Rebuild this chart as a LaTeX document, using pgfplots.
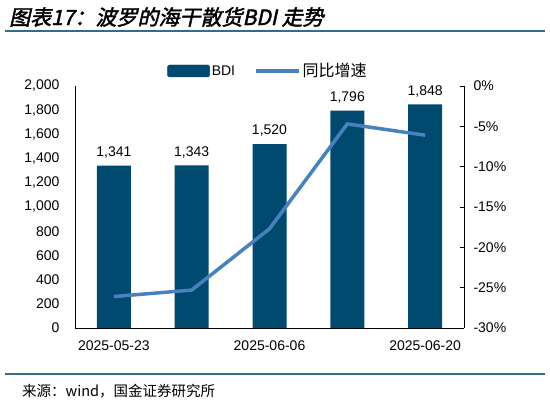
\documentclass[border=0pt]{standalone}
\usepackage{fontspec}
\usepackage{pgfplots}
\pgfplotsset{compat=1.18}
\setmainfont{Liberation Sans}
\newfontfamily\cjk{Noto Sans CJK SC}
\newfontfamily\cjktitle[FakeSlant=0.22,FakeBold=2]{Noto Sans CJK SC}
\definecolor{bdiblue}{RGB}{0,74,112}
\definecolor{linecol}{RGB}{72,129,190}
\definecolor{rulecol}{RGB}{52,108,140}
\begin{document}
\begin{tikzpicture}
\useasboundingbox (0,0) rectangle (550pt,404pt);
\node[anchor=west,inner sep=0pt] at (9pt,387pt) {\fontsize{21}{24}\selectfont\cjktitle 图表17：波罗的海干散货BDI 走势};
\draw[rulecol,line width=1.5pt] (5pt,373pt) -- (545pt,373pt);
\draw[rulecol,line width=1.5pt] (5pt,30pt) -- (545pt,30pt);
\node[anchor=west,inner sep=0pt] at (22pt,13pt) {\fontsize{14.5}{16}\selectfont\cjk 来源：wind，国金证券研究所};

\begin{axis}[
  at={(75pt,76pt)}, anchor=south west,
  width=389pt, height=242pt, scale only axis,
  xmin=-0.5, xmax=4.5, ymin=0, ymax=2000,
  axis x line*=bottom, axis y line*=left,
  axis line style={black, line width=0.8pt},
  xtick={0,2,4},
  xticklabels={2025-05-23,2025-06-06,2025-06-20},
  x tick style={draw=none},
  extra x ticks={0.5,1.5,2.5,3.5},
  extra x tick labels={},
  extra x tick style={major tick length=3pt, tick align=inside, tick style={draw=black, line width=0.6pt}},
  ytick distance=200,
  y tick style={draw=none},
  tick label style={font=\fontsize{14}{16}\selectfont},
  x tick label style={yshift=-9pt},
  y tick label style={xshift=-12pt},
  /pgf/number format/.cd, 1000 sep={,}, assume math mode=true,
]
\addplot[ybar, bar width=34pt, fill=bdiblue, draw=none,
  nodes near coords,
  nodes near coords style={font=\fontsize{14}{16}\selectfont, yshift=4pt, /pgf/number format/1000 sep={,}, /pgf/number format/assume math mode=true}]
  coordinates {(0,1341) (1,1343) (2,1520) (3,1796) (4,1848)};
\end{axis}

\begin{axis}[
  at={(75pt,76pt)}, anchor=south west,
  width=389pt, height=242pt, scale only axis,
  xmin=-0.5, xmax=4.5, ymin=-30, ymax=0,
  axis x line=none, axis y line*=right,
  axis line style={black, line width=0.8pt},
  ytick distance=5,
  tick align=inside,
  major tick length=4pt,
  y tick style={black, line width=0.6pt},
  yticklabel={\pgfmathprintnumber{\tick}\%},
  tick label style={font=\fontsize{14}{16}\selectfont},
  y tick label style={anchor=west, xshift=6pt},
  /pgf/number format/assume math mode=true,
  legend columns=2,
  legend style={draw=none, fill=none, at={(0.237,1.062)}, anchor=west,
    font=\fontsize{14}{16}\selectfont, inner sep=0pt,
    /tikz/every even column/.append style={column sep=17pt},
    nodes={inner sep=2pt}},
]
\addlegendimage{legend image code/.code={\fill[bdiblue,rounded corners=1.5pt] (0pt,-6pt) rectangle (42pt,6pt);}}
\addlegendentry{BDI}
\addplot[linecol, line width=3.5pt,
  legend image code/.code={\draw[linecol,line width=3.5pt] (0pt,0pt) -- (43pt,0pt);}]
  coordinates {(0,-26.1) (1,-25.3) (2,-17.7) (3,-4.7) (4,-6.1)};
\addlegendentry{\fontsize{16}{16}\selectfont\cjk 同比增速}
\end{axis}
\end{tikzpicture}
\end{document}
